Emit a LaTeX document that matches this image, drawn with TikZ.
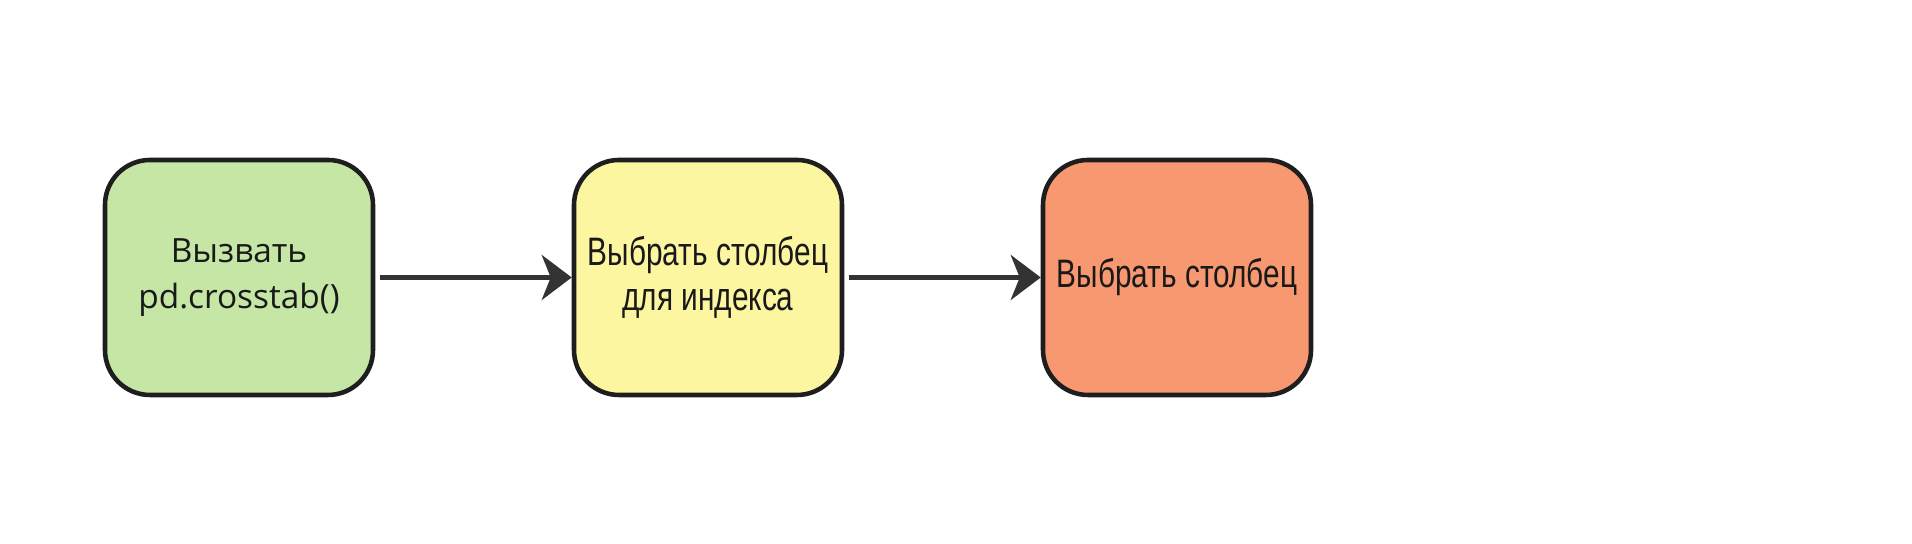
\documentclass[tikz,border=0pt]{standalone}
\usepackage{fontspec}
\setmainfont{Liberation Sans}
\newfontfamily\callfont{Open Sans}
\newfontfamily\pickfont[FakeStretch=0.75]{Liberation Sans}
\usetikzlibrary{arrows.meta}
\definecolor{callgreen}{RGB}{197,230,165}
\definecolor{pickyellow}{RGB}{253,246,160}
\definecolor{pickorange}{RGB}{247,152,112}
\definecolor{boxline}{RGB}{30,30,30}
\definecolor{arrowgray}{RGB}{51,51,51}
\tikzset{
  box/.style={draw=boxline,line width=1.3pt,rounded corners=4.5mm,
    minimum width=2.68cm,minimum height=2.35cm,align=center,
    inner sep=0pt,text=black!90},
  link/.style={draw=arrowgray,line width=1.3pt,shorten <=0.5mm,
    -{Stealth[length=3mm,width=4.5mm,inset=0.9mm]}},
}
\begin{document}
\begin{tikzpicture}
\def\y{2.665}
\def\d{4.69}
\useasboundingbox (0,0) rectangle (19.12,5.44);
\node[box,fill=callgreen,font=\callfont\fontsize{9.5pt}{13pt}\selectfont]
  (call) at (2.39,\y) {Вызвать\\pd.crosstab()};
\node[box,fill=pickyellow,font=\pickfont\fontsize{11.3pt}{12.6pt}\selectfont]
  (index) at ({2.39+\d},\y) {Выбрать столбец\\для индекса};
\node[box,fill=pickorange,font=\pickfont\fontsize{11.3pt}{12.6pt}\selectfont]
  (column) at ({2.39+2*\d},\y) {Выбрать столбец};
\draw[link] (call) -- (index);
\draw[link] (index) -- (column);
\end{tikzpicture}
\end{document}
